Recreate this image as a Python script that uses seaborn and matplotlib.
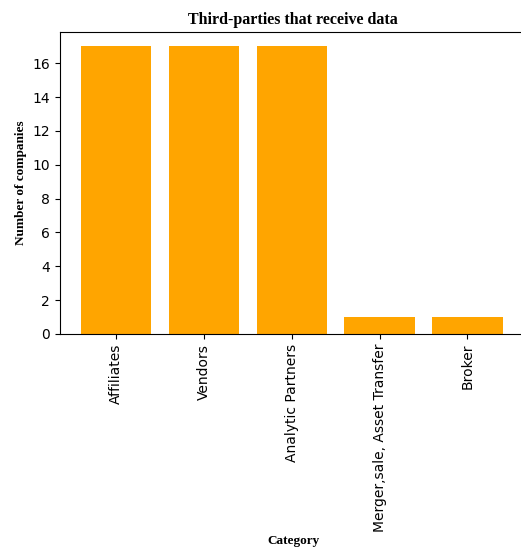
import matplotlib
matplotlib.use("Agg")
import matplotlib.pyplot as plt
import seaborn as sns
import pandas as pd

categories = ["Affiliates", "Vendors", "Analytic Partners",
              "Merger,sale, Asset Transfer", "Broker"]
companies = [17, 17, 17, 1, 1]

df = pd.DataFrame({"Category": categories, "Number of companies": companies})

fig = plt.figure(figsize=(5.21, 5.51), dpi=100)
ax = fig.add_axes([0.115, 0.394, 0.895, 0.548])

sns.barplot(data=df, x="Category", y="Number of companies", color="orange",
            saturation=1, width=0.8, ax=ax)

ax.set_xlim(-0.64, 4.67)
ax.set_ylim(0, 17.85)
ax.set_yticks(range(0, 17, 2))
ax.tick_params(axis="x", labelrotation=90, labelsize=10)
ax.tick_params(axis="y", labelsize=10)
ax.spines["right"].set_visible(False)

serif = ["Liberation Serif", "DejaVu Serif"]
ax.set_title("Third-parties that receive data", fontfamily=serif,
             fontweight="bold", fontsize=11.5, pad=6)
ax.set_xlabel("Category", fontfamily=serif, fontweight="bold", fontsize=9.5,
              labelpad=2)
ax.set_ylabel("Number of companies", fontfamily=serif, fontweight="bold",
              fontsize=9.5)

fig.savefig("out.png", dpi=100)
